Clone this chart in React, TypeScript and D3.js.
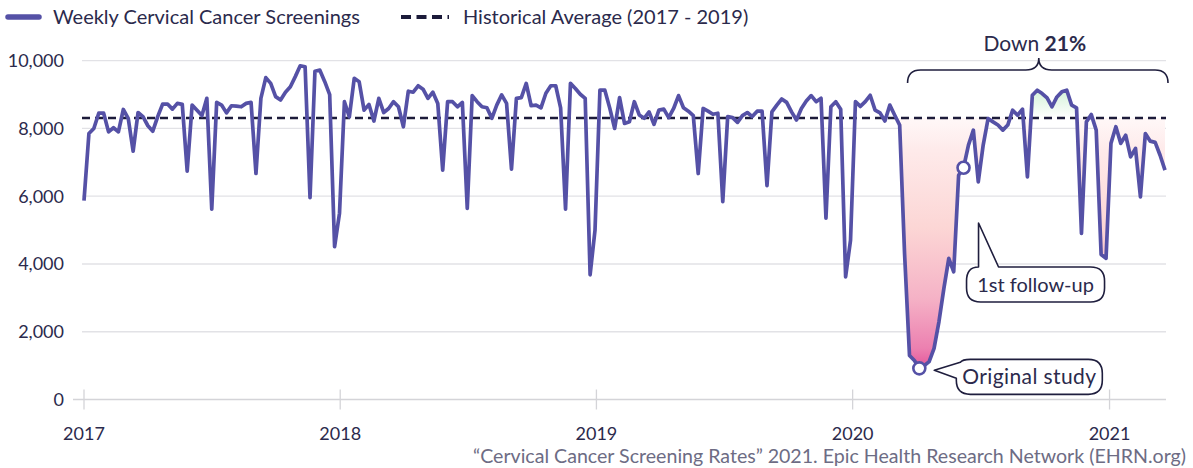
import { useEffect, useRef } from 'react';
import * as d3 from 'd3';

// weekly screenings, first week of 2017 through late March 2021
const weeklyScreenings = [
  5870, 7850, 8000, 8450, 8450, 7900, 8020, 7900, 8560, 8300,
  7330, 8470, 8350, 8080, 7920, 8350, 8720, 8720, 8570, 8740,
  8710, 6740, 8690, 8540, 8380, 8890, 5620, 8770, 8690, 8460,
  8670, 8660, 8640, 8740, 8770, 6670, 8890, 9500, 9330, 8940,
  8840, 9070, 9230, 9530, 9850, 9820, 5960, 9690, 9720, 9380,
  9000, 4510, 5500, 8790, 8340, 9480, 9380, 8540, 8710, 8220,
  8890, 8470, 8590, 8790, 8640, 8050, 9100, 9070, 9260, 9160,
  8890, 9070, 8740, 6770, 8790, 8790, 8640, 8770, 5640, 8970,
  8790, 8640, 8610, 8300, 8690, 8990, 8740, 6800, 8890, 8910,
  9330, 8670, 8690, 8610, 9040, 9260, 9260, 8610, 5620, 9330,
  9180, 9010, 8890, 3680, 5000, 9130, 9130, 8600, 8000, 8910,
  8150, 8200, 8790, 8400, 8300, 8490, 8120, 8540, 8570, 8320,
  8590, 8970, 8610, 8510, 8380, 6670, 8590, 8510, 8420, 8450,
  5840, 8350, 8320, 8180, 8380, 8470, 8350, 8510, 8510, 6310,
  8490, 8690, 8870, 8770, 8490, 8250, 8590, 8810, 8970, 8790,
  8890, 5350, 8640, 8790, 8570, 3620, 4700, 8790, 8650, 8790,
  8980, 8540, 8460, 8220, 8690, 8390, 8100, 4300, 1300, 1150,
  920, 1000, 1120, 1510, 2300, 3280, 4165, 3770, 6620, 6840,
  7510, 7950, 6425, 7510, 8295, 8195, 8100, 7950, 8100, 8540,
  8390, 8570, 6570, 8980, 9130, 9030, 8900, 8640, 8930, 9080,
  9130, 8690, 8610, 4900, 8195, 8410, 7950, 4280, 4165, 7560,
  8050, 7560, 7800, 7160, 7410, 5980, 7850, 7625, 7590, 7210,
  6770,
];

const historicalAverage = 8310;
const firstWeek = new Date(2017, 0, 1);
const yearTicks = [2017, 2018, 2019, 2020, 2021];
const valueTicks = [0, 2000, 4000, 6000, 8000, 10000];
const shadeFromWeek = 165;
const callouts = [
  { week: 170, label: 'Original study' },
  { week: 179, label: '1st follow-up' },
];
const dropLabel = 'Down';
const dropValue = '21%';
const seriesLabel = 'Weekly Cervical Cancer Screenings';
const averageLabel = 'Historical Average (2017 - 2019)';
const sourceText = '\u201cCervical Cancer Screening Rates\u201d 2021. Epic Health Research Network (EHRN.org)';

interface WeekPoint {
  date: Date;
  value: number;
  week: number;
}

const LINE = '#5551a6';
const INK = '#2b2a4c';
const FONT = 'Lato, sans-serif';

export default function App() {
  const svgRef = useRef<SVGSVGElement | null>(null);
  const width = 1193;
  const height = 468;

  useEffect(() => {
    if (!svgRef.current) return;
    const svg = d3.select(svgRef.current);
    svg.selectAll('*').remove();

    const data: WeekPoint[] = weeklyScreenings.map((value, i) => ({
      date: d3.timeDay.offset(firstWeek, i * 7),
      value,
      week: i,
    }));

    const x = d3.scaleTime()
      .domain([data[0].date, data[data.length - 1].date])
      .range([84, 1165]);

    const y = d3.scaleLinear()
      .domain([0, 10000])
      .range([399.5, 60.7]);

    const defs = svg.append('defs');

    const pink = defs.append('linearGradient')
      .attr('id', 'pinkFade')
      .attr('gradientUnits', 'userSpaceOnUse')
      .attr('x1', 0).attr('x2', 0)
      .attr('y1', y(historicalAverage))
      .attr('y2', y(920));
    [
      [0, '#fff8f8'], [0.13, '#feeaea'], [0.44, '#fcd6d5'],
      [0.72, '#f5b2c6'], [0.92, '#ec80b0'], [1, '#e3559a'],
    ].forEach(([o, c]) => pink.append('stop').attr('offset', o as number).attr('stop-color', c as string));

    const green = defs.append('linearGradient')
      .attr('id', 'greenFade')
      .attr('gradientUnits', 'userSpaceOnUse')
      .attr('x1', 0).attr('x2', 0)
      .attr('y1', y(historicalAverage))
      .attr('y2', y(9150));
    green.append('stop').attr('offset', 0).attr('stop-color', '#ffffff');
    green.append('stop').attr('offset', 1).attr('stop-color', '#d3f2d8');

    defs.append('clipPath').attr('id', 'belowAvg')
      .append('rect')
      .attr('x', 0).attr('width', width)
      .attr('y', y(historicalAverage))
      .attr('height', height - y(historicalAverage));
    defs.append('clipPath').attr('id', 'aboveAvg')
      .append('rect')
      .attr('x', 0).attr('width', width)
      .attr('y', 0)
      .attr('height', y(historicalAverage));

    // grid
    svg.append('g')
      .selectAll('line')
      .data(valueTicks)
      .enter()
      .append('line')
      .attr('x1', d => (d === 0 ? 73 : 82))
      .attr('x2', 1166)
      .attr('y1', d => y(d))
      .attr('y2', d => y(d))
      .attr('stroke', d => (d === 0 ? '#d4d4d8' : '#e2e2e6'))
      .attr('stroke-width', 1.3);

    svg.append('g')
      .selectAll('text')
      .data(valueTicks)
      .enter()
      .append('text')
      .attr('x', 64)
      .attr('y', d => y(d))
      .attr('dy', '0.36em')
      .attr('text-anchor', 'end')
      .attr('font-family', FONT)
      .attr('font-size', 18)
      .attr('fill', INK)
      .text(d => d3.format(',')(d));

    const yearDates = yearTicks.map(yr => new Date(yr, 0, 1));
    svg.append('g')
      .selectAll('line')
      .data(yearDates)
      .enter()
      .append('line')
      .attr('x1', d => x(d))
      .attr('x2', d => x(d))
      .attr('y1', y(0) - 10)
      .attr('y2', y(0) + 10)
      .attr('stroke', '#d4d4d8')
      .attr('stroke-width', 1.3);

    svg.append('g')
      .selectAll('text')
      .data(yearDates)
      .enter()
      .append('text')
      .attr('x', d => x(d))
      .attr('y', 440)
      .attr('text-anchor', 'middle')
      .attr('font-family', FONT)
      .attr('font-size', 18)
      .attr('fill', INK)
      .text(d => d3.timeFormat('%Y')(d));

    // shaded gap from the average
    const shaded = data.filter(d => d.week >= shadeFromWeek);
    const gap = d3.area<WeekPoint>()
      .x(d => x(d.date))
      .y0(y(historicalAverage))
      .y1(d => y(d.value));

    svg.append('path')
      .datum(shaded)
      .attr('clip-path', 'url(#belowAvg)')
      .attr('fill', 'url(#pinkFade)')
      .attr('d', gap);

    svg.append('path')
      .datum(shaded)
      .attr('clip-path', 'url(#aboveAvg)')
      .attr('fill', 'url(#greenFade)')
      .attr('d', gap);

    svg.append('line')
      .attr('x1', 82)
      .attr('x2', 1166)
      .attr('y1', y(historicalAverage))
      .attr('y2', y(historicalAverage))
      .attr('stroke', '#1c1b3a')
      .attr('stroke-width', 2.6)
      .attr('stroke-dasharray', '8 5');

    const line = d3.line<WeekPoint>()
      .x(d => x(d.date))
      .y(d => y(d.value));

    svg.append('path')
      .datum(data)
      .attr('fill', 'none')
      .attr('stroke', LINE)
      .attr('stroke-width', 3.7)
      .attr('stroke-linejoin', 'round')
      .attr('d', line);

    // bracket over the pandemic period
    const bx0 = x(data[shadeFromWeek + 2].date) + 3;
    const bx1 = 1168;
    const bm = (bx0 + bx1) / 2 + 1;
    const by = 70;
    const r = 13;
    svg.append('path')
      .attr('d', `M${bx0},${by + 13} Q${bx0},${by} ${bx0 + r},${by} L${bm - r},${by} Q${bm},${by} ${bm},${by - 12} Q${bm},${by} ${bm + r},${by} L${bx1 - r},${by} Q${bx1},${by} ${bx1},${by + 13}`)
      .attr('fill', 'none')
      .attr('stroke', '#1f1e3e')
      .attr('stroke-width', 1.6);

    const down = svg.append('text')
      .attr('x', bm - 4)
      .attr('y', 51)
      .attr('text-anchor', 'middle')
      .attr('font-family', FONT)
      .attr('font-size', 21)
      .attr('fill', INK);
    down.append('tspan').text(dropLabel + ' ');
    down.append('tspan').attr('font-weight', 'bold').text(dropValue);

    // callouts
    const orig = data[callouts[0].week];
    const follow = data[callouts[1].week];
    const ox = x(orig.date);
    const oy = y(orig.value);
    const fx = x(follow.date);

    // "Original study" bubble, tail pointing left at the low point
    const b1 = { x0: ox + 37, x1: ox + 183, y0: oy - 9, y1: oy + 26, r: 14 };
    svg.append('path')
      .attr('d', `M${ox + 15},${oy + 2} L${b1.x0 + 4},${b1.y0 + 3} Q${b1.x0 + 6},${b1.y0} ${b1.x0 + b1.r},${b1.y0} L${b1.x1 - b1.r},${b1.y0} Q${b1.x1},${b1.y0} ${b1.x1},${b1.y0 + b1.r} L${b1.x1},${b1.y1 - b1.r} Q${b1.x1},${b1.y1} ${b1.x1 - b1.r},${b1.y1} L${b1.x0 + b1.r},${b1.y1} Q${b1.x0},${b1.y1} ${b1.x0},${b1.y1 - b1.r} L${b1.x0},${b1.y1 - 16} Z`)
      .attr('fill', '#fff')
      .attr('stroke', '#1f1e3e')
      .attr('stroke-width', 1.6)
      .attr('stroke-linejoin', 'round');
    svg.append('text')
      .attr('x', (b1.x0 + b1.x1) / 2)
      .attr('y', b1.y1 - 10)
      .attr('text-anchor', 'middle')
      .attr('font-family', FONT)
      .attr('font-size', 21)
      .attr('letter-spacing', 0.4)
      .attr('fill', INK)
      .text(callouts[0].label);

    // "1st follow-up" bubble, tail pointing up
    const b2 = { x0: fx + 3, x1: fx + 141, y0: 267, y1: 302, r: 14 };
    const tipX = fx + 15;
    const tipY = 223;
    svg.append('path')
      .attr('d', `M${tipX},${tipY} L${fx + 35},${b2.y0} L${b2.x1 - b2.r},${b2.y0} Q${b2.x1},${b2.y0} ${b2.x1},${b2.y0 + b2.r} L${b2.x1},${b2.y1 - b2.r} Q${b2.x1},${b2.y1} ${b2.x1 - b2.r},${b2.y1} L${b2.x0 + b2.r},${b2.y1} Q${b2.x0},${b2.y1} ${b2.x0},${b2.y1 - b2.r} L${b2.x0},${b2.y0 + b2.r} Q${b2.x0},${b2.y0} ${tipX},${b2.y0} Z`)
      .attr('fill', '#fff')
      .attr('stroke', '#1f1e3e')
      .attr('stroke-width', 1.6)
      .attr('stroke-linejoin', 'round');
    svg.append('text')
      .attr('x', (b2.x0 + b2.x1) / 2)
      .attr('y', b2.y1 - 10)
      .attr('text-anchor', 'middle')
      .attr('font-family', FONT)
      .attr('font-size', 20)
      .attr('fill', INK)
      .text(callouts[1].label);

    svg.append('g')
      .selectAll('circle')
      .data(callouts.map(c => data[c.week]))
      .enter()
      .append('circle')
      .attr('cx', d => x(d.date))
      .attr('cy', d => y(d.value))
      .attr('r', 6)
      .attr('fill', '#fff')
      .attr('stroke', LINE)
      .attr('stroke-width', 2.6);

    // legend
    const legend = svg.append('g');
    legend.append('line')
      .attr('x1', 8).attr('x2', 39)
      .attr('y1', 17).attr('y2', 17)
      .attr('stroke', LINE)
      .attr('stroke-width', 5.5)
      .attr('stroke-linecap', 'round');
    legend.append('text')
      .attr('x', 53).attr('y', 17)
      .attr('dy', '0.35em')
      .attr('font-family', FONT)
      .attr('font-size', 20)
      .attr('fill', INK)
      .text(seriesLabel);
    legend.append('line')
      .attr('x1', 401).attr('x2', 449)
      .attr('y1', 17).attr('y2', 17)
      .attr('stroke', '#1c1b3a')
      .attr('stroke-width', 4)
      .attr('stroke-dasharray', '10 5.5');
    legend.append('text')
      .attr('x', 463).attr('y', 17)
      .attr('dy', '0.35em')
      .attr('font-family', FONT)
      .attr('font-size', 20)
      .attr('fill', INK)
      .text(averageLabel);

    svg.append('text')
      .attr('x', 1186)
      .attr('y', 463)
      .attr('text-anchor', 'end')
      .attr('font-family', FONT)
      .attr('font-size', 19.6)
      .attr('fill', '#6d6c84')
      .text(sourceText);
  }, []);

  return (
    <div style={{ position: 'absolute', left: 0, top: 0 }}>
      <svg ref={svgRef} width={width} height={height} style={{ display: 'block', background: '#fff' }} />
    </div>
  );
}
